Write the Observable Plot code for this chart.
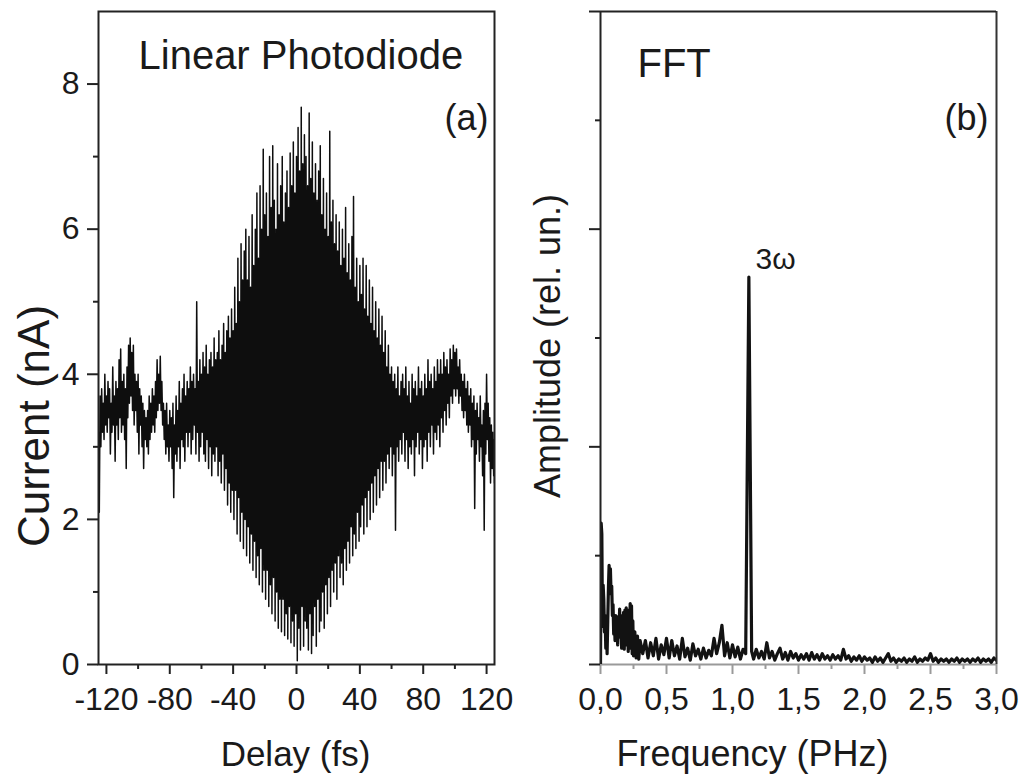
<!DOCTYPE html>
<html>
<head>
<meta charset="utf-8">
<script src="https://cdn.jsdelivr.net/npm/d3@7"></script>
<script src="https://cdn.jsdelivr.net/npm/@observablehq/plot@0.6"></script>
<style>
  body { margin: 0; background: #fff; }
  #wrap { position: relative; width: 1029px; height: 778px; overflow: hidden; background: #fff; }
  #left, #right { position: absolute; top: 0; }
  #left { left: 0; }
  #right { left: 514px; }
  svg text { font-family: "Liberation Sans", Arial, Helvetica, sans-serif; }
</style>
</head>
<body>
<div id="wrap"><div id="left"></div><div id="right"></div></div>
<script>
// ---------- Panel (a): Linear photodiode current vs delay ----------
// sampled every 1 fs from -125 fs to 125 fs; upper / lower extremes of the fast oscillation (nA)
const delayStart = -125, delayStep = 1;
const currentHi = [
  3.2,3.7,3.8,3.6,4.0,3.7,3.9,3.8,3.6,4.1,3.7,3.9,3.8,4.2,4.35,          // -125..-111
  3.9,4.0,3.8,4.1,4.4,4.5,4.3,4.4,4.0,3.9,4.0,                          // -110..-100
  3.8,3.7,3.6,3.5,3.4,3.5,3.7,3.6,3.8,3.7,                              // -99..-90
  3.9,4.2,4.0,4.25,3.9,3.6,3.5,3.6,3.3,3.5,                             // -89..-80
  3.4,3.6,3.3,3.7,3.5,3.9,3.6,3.8,4.0,3.7,                              // -79..-70
  3.9,3.8,4.1,3.9,4.0,3.8,5.0,3.9,4.2,4.0,                              // -69..-60
  4.3,4.1,4.4,4.0,4.2,4.3,4.1,4.5,4.2,4.3,                              // -59..-50
  4.6,4.2,4.4,4.7,4.3,4.6,4.8,4.5,4.9,4.6,                              // -49..-40
  5.2,4.7,5.6,5.0,5.8,5.3,5.7,6.0,5.3,5.9,                              // -39..-30
  5.2,6.2,5.5,6.0,6.5,5.6,6.6,6.0,7.1,6.2,                              // -29..-20
  6.5,5.9,7.0,6.3,7.15,6.4,6.0,6.9,6.2,6.6,                             // -19..-10
  7.0,6.1,6.5,6.8,6.3,7.05,6.6,7.2,6.5,7.0,                             // -9..0
  7.4,6.8,7.68,6.9,7.3,7.0,6.6,7.6,6.7,7.2,                             // 1..10
  6.5,6.9,6.4,6.8,7.15,6.2,6.7,6.0,6.5,5.9,                             // 11..20
  7.35,6.1,6.4,5.8,6.2,5.7,6.1,5.5,6.0,5.6,                             // 21..30
  6.3,5.4,5.8,5.3,5.9,6.45,5.2,5.6,5.0,5.5,                             // 31..40
  5.1,5.6,4.9,5.5,4.8,5.3,4.7,5.2,4.6,5.0,                              // 41..50
  4.5,4.9,4.4,4.8,4.3,4.6,4.1,4.4,4.0,4.1,                              // 51..60
  3.9,4.0,3.8,4.1,3.7,3.9,4.0,3.8,4.1,3.7,                              // 61..70
  3.9,3.6,4.0,3.8,3.9,3.7,4.1,3.8,3.9,3.7,                              // 71..80
  4.0,3.8,4.2,3.9,4.0,3.8,4.1,3.9,4.2,4.0,                              // 81..90
  4.2,4.0,4.3,4.1,4.2,4.0,4.35,4.2,4.4,4.3,                             // 91..100
  4.35,4.1,4.2,4.0,3.9,4.0,3.8,3.9,3.7,3.8,                             // 101..110
  3.6,3.7,3.5,3.6,3.4,3.7,3.3,3.5,3.6,4.0,                              // 111..120
  3.6,3.4,3.3,3.2,3.1                                                   // 121..125
];
const currentLo = [
  2.1,3.0,3.2,3.1,3.3,3.2,3.4,2.9,3.2,3.3,2.8,3.3,3.1,3.4,3.2,          // -125..-111
  3.3,3.1,2.7,3.4,3.6,3.7,3.5,3.3,3.5,3.2,2.9,                          // -110..-100
  3.3,3.0,2.7,3.1,3.0,2.9,3.1,3.2,3.3,3.2,                              // -99..-90
  3.4,3.5,3.6,3.5,3.3,3.1,2.9,3.0,2.8,3.0,                              // -89..-80
  2.7,2.3,2.9,2.8,3.0,2.7,3.1,3.0,2.8,3.2,                              // -79..-70
  3.0,3.2,2.9,3.1,3.3,2.9,3.2,2.8,3.0,3.2,                              // -69..-60
  2.9,2.8,3.1,2.7,3.0,2.6,2.9,2.8,3.0,2.6,                              // -59..-50
  2.8,2.5,2.9,2.4,2.7,2.2,2.5,2.1,2.4,2.0,                              // -49..-40
  2.4,1.8,2.3,1.7,2.1,1.6,2.0,1.5,1.9,1.4,                              // -39..-30
  1.8,1.3,1.7,1.2,1.5,1.1,1.6,1.0,1.3,0.9,                              // -29..-20
  1.3,0.8,1.1,0.7,1.2,0.6,1.0,0.5,0.9,0.45,                             // -19..-10
  0.9,0.4,0.7,0.35,0.8,0.3,0.6,0.25,0.7,0.05,                           // -9..0
  0.5,0.2,0.8,0.25,0.6,0.5,0.2,0.7,0.15,0.4,                            // 1..10
  0.8,0.25,0.9,0.45,0.6,1.0,0.5,1.1,0.7,1.2,                            // 11..20
  0.8,1.3,1.0,1.4,0.9,1.5,1.2,1.4,1.1,1.6,                              // 21..30
  1.3,1.7,1.4,1.9,1.5,1.8,1.6,2.1,1.7,1.9,                              // 31..40
  2.2,1.8,2.3,1.9,2.4,2.0,2.5,2.1,2.6,2.2,                              // 41..50
  2.7,2.3,2.8,2.4,2.8,2.5,2.9,2.7,3.0,2.6,                              // 51..60
  2.9,1.85,3.0,2.8,3.1,2.9,3.2,2.8,3.1,2.7,                             // 61..70
  3.0,2.9,3.1,2.6,3.0,3.2,2.9,3.1,2.7,3.0,                              // 71..80
  3.1,2.8,3.2,3.0,3.3,2.9,3.2,3.1,3.3,3.0,                              // 81..90
  3.4,3.2,3.5,3.3,3.6,3.4,3.7,3.6,3.8,3.7,                              // 91..100
  3.8,3.6,3.7,3.5,3.4,3.5,3.3,3.2,3.3,3.0,                              // 101..110
  3.1,2.15,2.9,3.1,2.8,3.0,2.6,1.85,2.9,3.1,                            // 111..120
  2.8,2.5,2.7,2.6,2.5                                                   // 121..125
];
const delayTicksMajor = [-120, -80, -40, 0, 40, 80, 120];
const delayTicksMinor = [-100, -60, -20, 20, 60, 100];
const currentTicksMajor = [0, 2, 4, 6, 8];
const currentTicksMinor = [1, 3, 5, 7];

// ---------- Panel (b): FFT amplitude vs frequency ----------
const freq = [
  0.000,0.005,0.010,0.015,0.020,0.025,0.030,0.035,0.040,0.045,0.050,0.055,0.060,0.065,
  0.070,0.075,0.080,0.085,0.090,0.095,0.100,0.105,0.110,0.115,0.120,0.125,0.130,0.135,
  0.140,0.145,0.150,0.155,0.160,0.165,0.170,0.175,0.180,0.185,0.190,0.195,0.200,0.205,
  0.210,0.215,0.220,0.225,0.230,0.235,0.240,0.245,0.250,0.260,0.270,0.280,0.290,0.300,
  0.32,0.34,0.36,0.38,0.40,0.42,0.44,0.46,0.48,0.50,0.52,0.54,0.56,0.58,0.60,0.62,0.64,
  0.66,0.68,0.70,0.72,0.74,0.76,0.78,0.80,0.82,0.84,0.86,0.88,0.90,0.92,0.94,0.96,0.98,
  1.00,1.02,1.04,1.06,1.08,1.10,1.124,1.145,
  1.16,1.18,1.20,1.22,1.24,1.26,1.28,1.30,1.32,1.34,1.36,1.38,1.40,1.42,1.44,1.46,1.48,
  1.50,1.52,1.54,1.56,1.58,1.60,1.62,1.64,1.66,1.68,1.70,1.72,1.74,1.76,1.78,1.80,1.82,
  1.84,1.86,1.88,1.90,1.92,1.94,1.96,1.98,2.00,2.02,2.04,2.06,2.08,2.10,2.12,2.14,2.16,
  2.18,2.20,2.22,2.24,2.26,2.28,2.30,2.32,2.34,2.36,2.38,2.40,2.42,2.44,2.46,2.48,2.50,
  2.52,2.54,2.56,2.58,2.60,2.62,2.64,2.66,2.68,2.70,2.72,2.74,2.76,2.78,2.80,2.82,2.84,
  2.86,2.88,2.90,2.92,2.94,2.96,2.98,3.00
];
const amplitude = [
  0.00,1.30,1.20,0.35,0.73,0.60,0.30,0.45,0.15,0.35,0.10,0.40,0.70,0.91,
  0.80,0.88,0.65,0.72,0.45,0.55,0.28,0.42,0.22,0.45,0.25,0.40,0.18,0.44,
  0.30,0.51,0.25,0.40,0.15,0.45,0.20,0.48,0.14,0.50,0.25,0.52,0.18,0.45,
  0.12,0.50,0.30,0.56,0.15,0.54,0.10,0.40,0.08,0.30,0.06,0.26,0.05,0.22,
  0.10,0.22,0.06,0.20,0.08,0.24,0.05,0.18,0.09,0.24,0.06,0.22,0.08,0.17,0.05,0.24,0.07,
  0.15,0.04,0.19,0.08,0.14,0.05,0.15,0.06,0.13,0.08,0.24,0.10,0.20,0.36,0.08,0.20,0.06,
  0.18,0.07,0.16,0.05,0.14,0.10,3.56,0.12,
  0.05,0.14,0.06,0.12,0.05,0.20,0.06,0.12,0.04,0.10,0.15,0.05,0.11,0.04,0.12,0.06,0.10,
  0.04,0.09,0.05,0.10,0.04,0.11,0.05,0.09,0.04,0.10,0.05,0.08,0.04,0.09,0.05,0.08,0.04,
  0.14,0.05,0.08,0.03,0.07,0.04,0.08,0.03,0.07,0.04,0.06,0.02,0.07,0.03,0.06,0.02,0.06,
  0.10,0.03,0.06,0.02,0.05,0.03,0.06,0.02,0.05,0.03,0.07,0.02,0.05,0.03,0.06,0.04,0.10,
  0.03,0.06,0.02,0.05,0.03,0.05,0.02,0.05,0.03,0.06,0.02,0.05,0.03,0.05,0.02,0.05,0.03,
  0.06,0.02,0.05,0.03,0.05,0.02,0.06,0.04
];
const freqTicksMajor = [0, 0.5, 1.0, 1.5, 2.0, 2.5, 3.0];
const freqTicksMinor = [0.25, 0.75, 1.25, 1.75, 2.25, 2.75];
const ampTicksMajor = [0, 2, 4, 6];
const ampTicksMinor = [1, 3, 5];

// ---------- build series ----------
const delay = currentHi.map((_, i) => delayStart + i * delayStep);
const zig = [];
delay.forEach((d, i) => {
  zig.push({x: d, y: currentHi[i]});
  const next = i < delay.length - 1 ? delay[i + 1] : d;
  zig.push({x: (d + next) / 2, y: currentLo[i]});
});
const fft = freq.map((f, i) => ({f, a: amplitude[i]}));

const INK = "#1a1a1a";
const FONT = "Liberation Sans, Arial, Helvetica, sans-serif";

const left = Plot.plot({
  width: 514, height: 778,
  marginLeft: 98, marginRight: 20, marginTop: 11, marginBottom: 114,
  x: {domain: [-125, 125]},
  y: {domain: [0, 9]},
  style: {fontFamily: FONT, color: INK, background: "white", overflow: "visible"},
  marks: [
    Plot.line(zig, {x: "x", y: "y", stroke: "#0e0e0e", strokeWidth: 1.5, clip: true}),
    Plot.frame({stroke: "#222", strokeWidth: 2}),
    Plot.axisX(delayTicksMajor, {anchor: "bottom", tickSize: 10, tickPadding: 13, strokeWidth: 2, stroke: "#222",
      fontSize: 32, fill: INK, label: null, tickFormat: d => String(d)}),
    Plot.axisX(delayTicksMinor, {anchor: "bottom", tickSize: 5, strokeWidth: 2, stroke: "#222",
      label: null, tickFormat: () => ""}),
    Plot.axisY(currentTicksMajor, {anchor: "left", tickSize: 11, tickPadding: 8, strokeWidth: 2, stroke: "#222",
      fontSize: 32, fill: INK, label: null, tickFormat: d => String(d)}),
    Plot.axisY(currentTicksMinor, {anchor: "left", tickSize: 5, strokeWidth: 2, stroke: "#222",
      label: null, tickFormat: () => ""}),
    Plot.text(["Linear Photodiode"], {frameAnchor: "top-left", textAnchor: "start", lineAnchor: "middle",
      dx: 40, dy: 45, fontSize: 40, fill: INK}),
    Plot.text(["(a)"], {frameAnchor: "top-right", textAnchor: "end", lineAnchor: "middle",
      dx: -6, dy: 107, fontSize: 36, fill: INK}),
    Plot.text(["Current (nA)"], {frameAnchor: "left", textAnchor: "middle", lineAnchor: "middle",
      rotate: -90, dx: -64, dy: 88, fontSize: 44, fill: INK}),
    Plot.text(["Delay (fs)"], {frameAnchor: "bottom", textAnchor: "middle", lineAnchor: "middle",
      dx: -1, dy: 90, fontSize: 35, fill: INK})
  ]
});
document.getElementById("left").append(left);

const right = Plot.plot({
  width: 515, height: 778,
  marginLeft: 86, marginRight: 33, marginTop: 11, marginBottom: 114,
  x: {domain: [0, 3]},
  y: {domain: [0, 6]},
  style: {fontFamily: FONT, color: INK, background: "white", overflow: "visible"},
  marks: [
    Plot.ruleY([0], {stroke: "#9a9a9a", strokeWidth: 2}),
    Plot.line(fft, {x: "f", y: "a", stroke: "#121212", strokeWidth: 3.2, strokeLinejoin: "round", clip: true}),
    Plot.ruleX([0], {stroke: "#222", strokeWidth: 2}),
    Plot.ruleX([3], {stroke: "#333", strokeWidth: 2}),
    Plot.ruleY([6], {stroke: "#222", strokeWidth: 2}),
    Plot.axisX(freqTicksMajor, {anchor: "bottom", tickSize: 10, tickPadding: 13, strokeWidth: 2, stroke: "#9a9a9a",
      fontSize: 32, fill: INK, label: null, tickFormat: d => d.toFixed(1).replace(".", ",")}),
    Plot.axisX(freqTicksMinor, {anchor: "bottom", tickSize: 5, strokeWidth: 2, stroke: "#9a9a9a",
      label: null, tickFormat: () => ""}),
    Plot.axisY(ampTicksMajor, {anchor: "left", tickSize: 11, strokeWidth: 2, stroke: "#222",
      label: null, tickFormat: () => ""}),
    Plot.axisY(ampTicksMinor, {anchor: "left", tickSize: 5, strokeWidth: 2, stroke: "#222",
      label: null, tickFormat: () => ""}),
    Plot.text(["FFT"], {frameAnchor: "top-left", textAnchor: "start", lineAnchor: "middle",
      dx: 37, dy: 53, fontSize: 40, fill: INK}),
    Plot.text(["(b)"], {frameAnchor: "top-right", textAnchor: "end", lineAnchor: "middle",
      dx: -8, dy: 107, fontSize: 36, fill: INK}),
    Plot.text(["3ω"], {frameAnchor: "top-left", textAnchor: "start", lineAnchor: "middle",
      dx: 155, dy: 248, fontSize: 30, fill: INK}),
    Plot.text(["Amplitude (rel. un.)"], {frameAnchor: "left", textAnchor: "middle", lineAnchor: "middle",
      rotate: -90, dx: -52, dy: 8, fontSize: 36, fill: INK}),
    Plot.text(["Frequency (PHz)"], {frameAnchor: "bottom", textAnchor: "middle", lineAnchor: "middle",
      dx: -46, dy: 90, fontSize: 36, fill: INK})
  ]
});
document.getElementById("right").append(right);
</script>
</body>
</html>
